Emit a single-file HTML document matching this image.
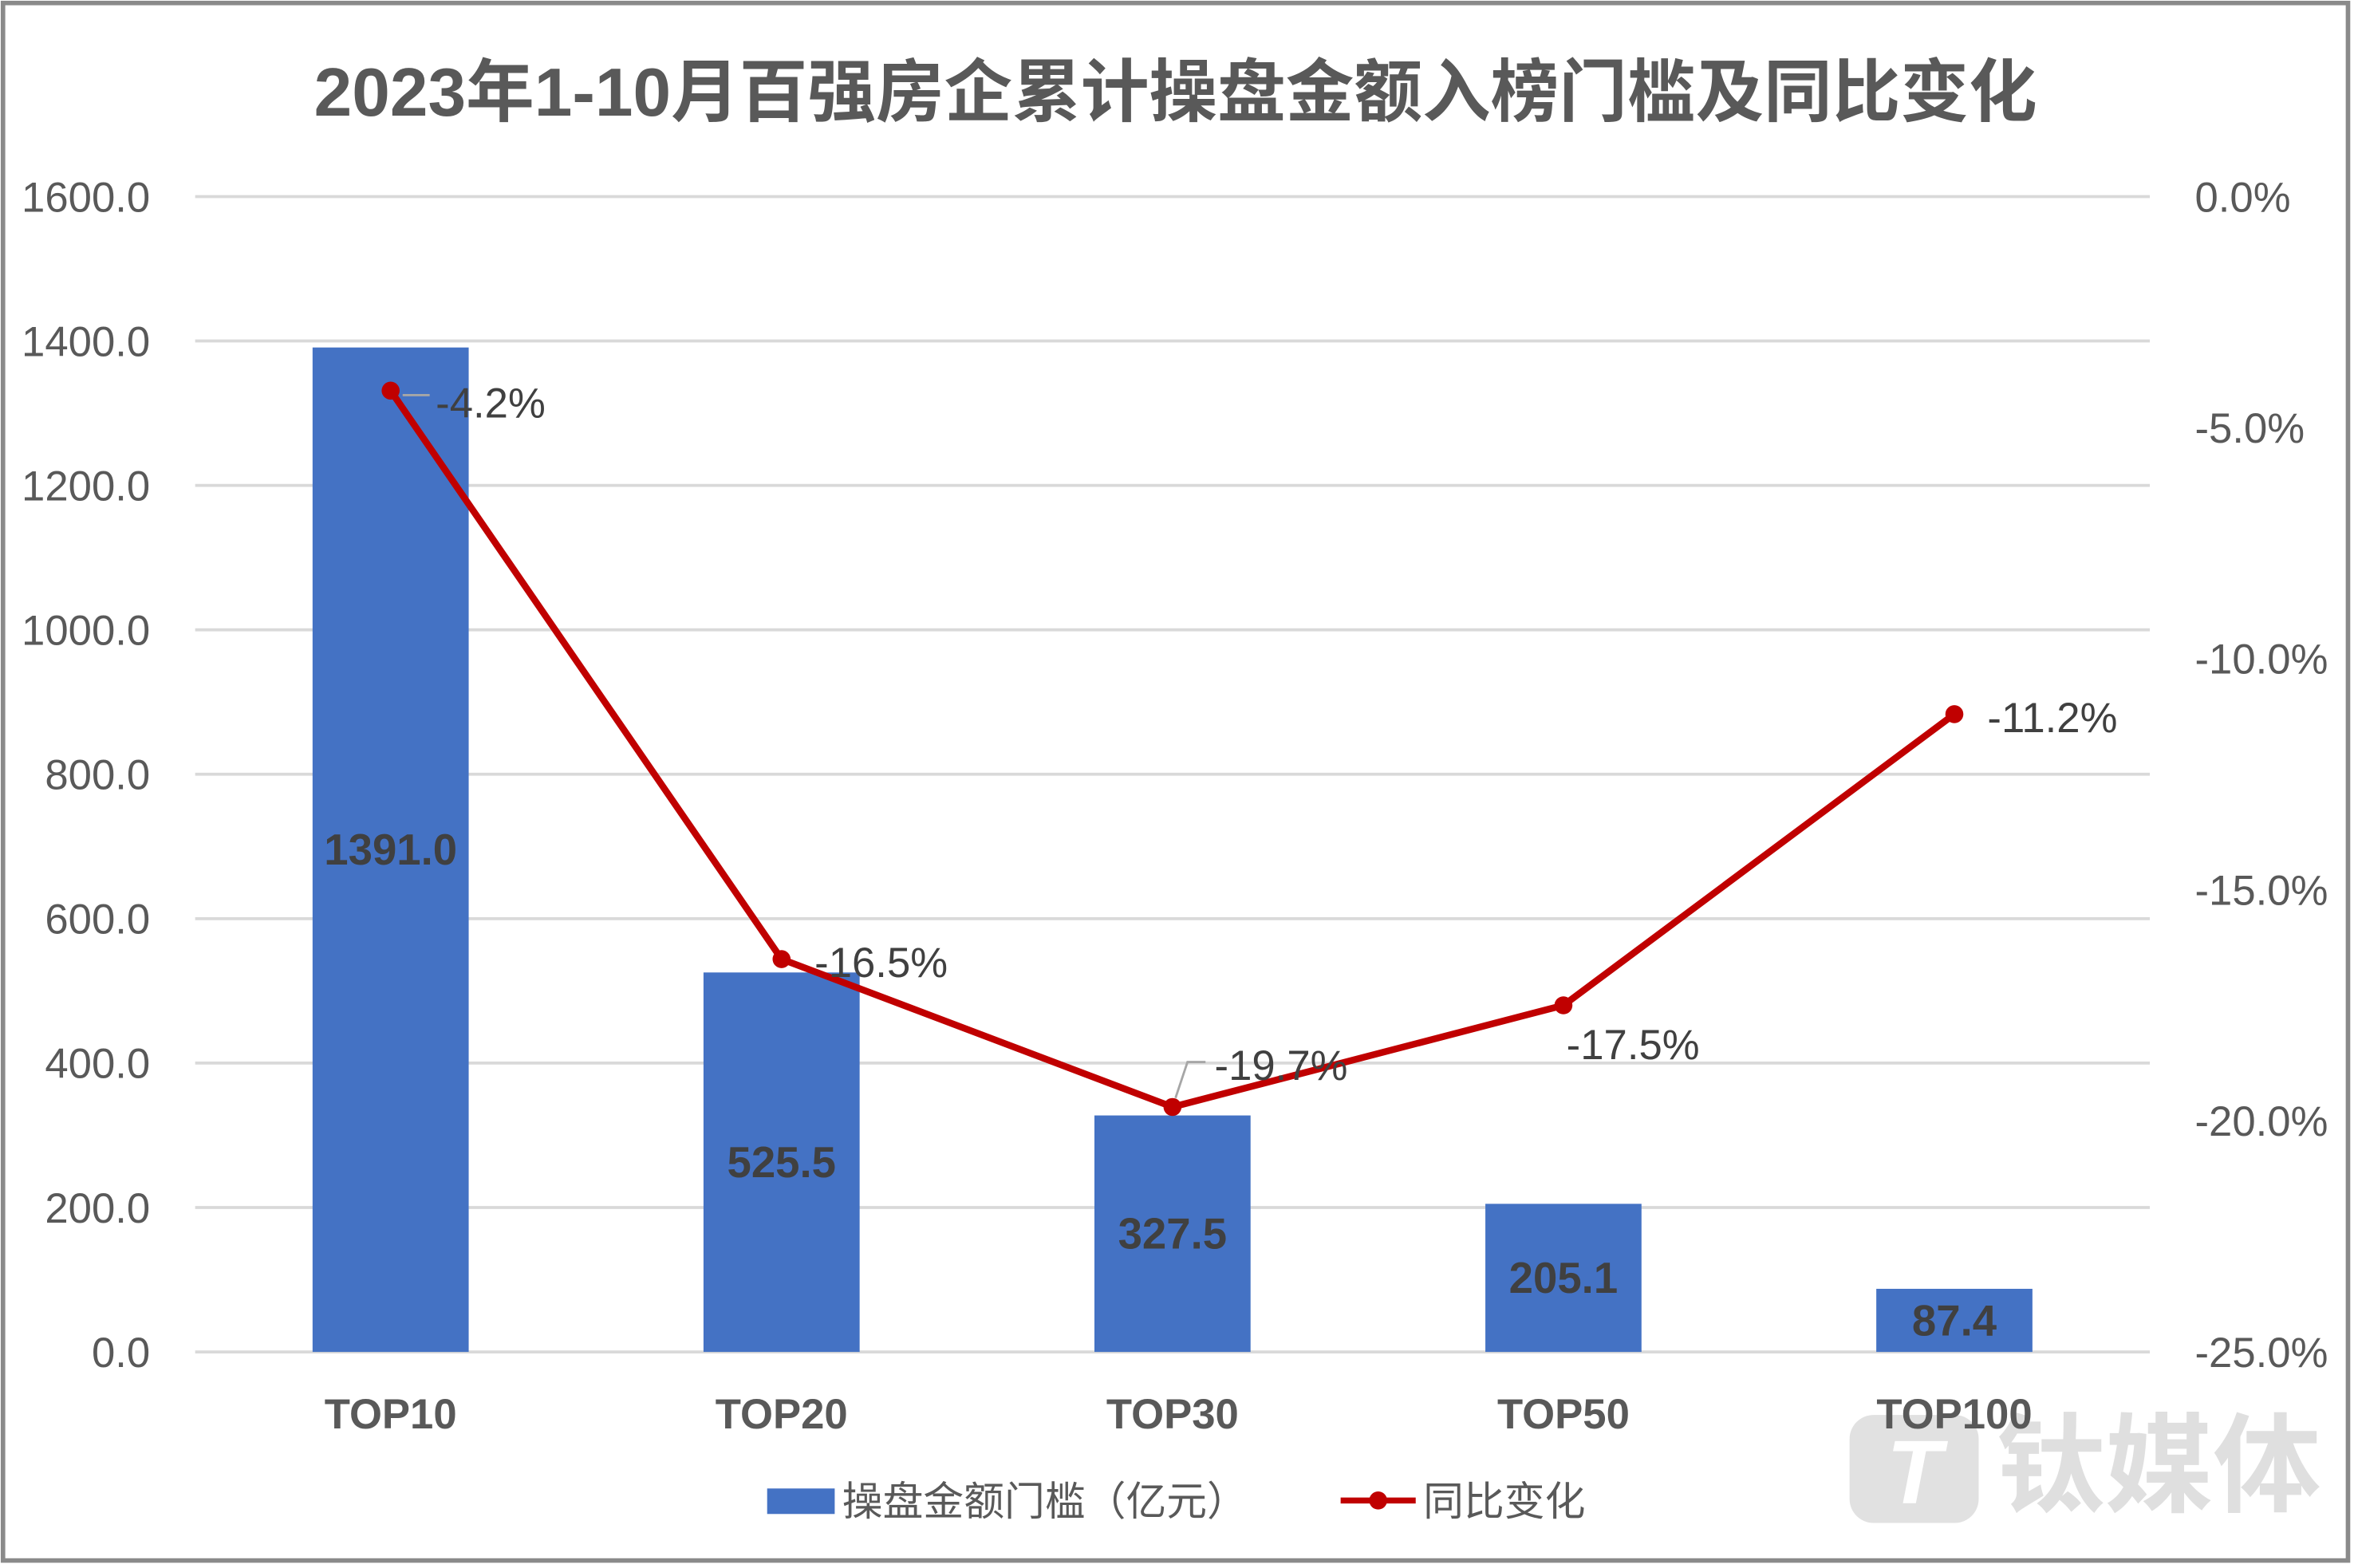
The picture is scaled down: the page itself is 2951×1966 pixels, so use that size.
<!DOCTYPE html>
<html><head><meta charset="utf-8"><style>
html,body{margin:0;padding:0;background:#fff;}
svg{display:block;}
text{font-family:"Liberation Sans","Noto Sans CJK SC",sans-serif;}
</style></head><body>
<svg id="chart" width="2951" height="1966" viewBox="0 0 1568 1045" preserveAspectRatio="none" xmlns="http://www.w3.org/2000/svg">
<rect x="2" y="2" width="1562" height="1038" fill="#fff" stroke="#8a8a8a" stroke-width="3"/>
<g opacity="0.9">
<rect x="1232" y="943" width="86" height="72" rx="16" fill="#dedede"/>
<text x="1275" y="1002" text-anchor="middle" font-size="60" font-weight="bold" font-style="italic" fill="#fff">T</text>
<text x="1330" y="1002" font-size="72" font-weight="bold" fill="#dcdcdc" font-family="'Noto Sans CJK SC',sans-serif">钛媒体</text>
</g>
<text x="783" y="77" text-anchor="middle" font-size="45.5" font-weight="bold" fill="#595959" font-family="'Liberation Sans','Noto Sans CJK SC',sans-serif">2023年1-10月百强房企累计操盘金额入榜门槛及同比变化</text>
<g id="grid"></g><g id="bars"></g><g id="line"></g><g id="labels"></g>
<g>
<rect x="511" y="992" width="45" height="17" fill="#4472c4"/>
<text x="561" y="1010" font-size="27" fill="#595959">操盘金额门槛（亿元）</text>
<line x1="893" y1="1000" x2="943" y2="1000" stroke="#c00000" stroke-width="4"/>
<circle cx="918" cy="1000" r="6" fill="#c00000"/>
<text x="948" y="1010" font-size="27" fill="#595959">同比变化</text>
</g>
</svg>
<script>
const categories=["TOP10","TOP20","TOP30","TOP50","TOP100"];
const amounts=[1391.0,525.5,327.5,205.1,87.4];
const yoy=[-4.2,-16.5,-19.7,-17.5,-11.2];
const leftTicks=[0,200,400,600,800,1000,1200,1400,1600];
const rightTicks=[0,-5,-10,-15,-20,-25];
const NS="http://www.w3.org/2000/svg";
const X0=130,X1=1432,Y0=901,Y1=131;
const band=(X1-X0)/categories.length;
const xC=i=>X0+band*(i+0.5);
const yL=v=>Y0-(v/1600)*(Y0-Y1);
const yR=v=>Y1+(-v/25)*(Y0-Y1);
function mk(tag,attrs,parent,txt){const e=document.createElementNS(NS,tag);for(const k in attrs)e.setAttribute(k,attrs[k]);if(txt!==undefined)e.textContent=txt;document.getElementById(parent).appendChild(e);return e;}
leftTicks.forEach(t=>{
 const g=mk('line',{x1:X0,x2:X1,y1:yL(t),y2:yL(t),stroke:'#d9d9d9','stroke-width':2},'grid');
 
 
 const l=mk('text',{x:100,y:yL(t)+10,'text-anchor':'end','font-size':28,fill:'#595959'},'grid',t.toFixed(1));
 
 
});
rightTicks.forEach(t=>{
 const l=mk('text',{x:1462,y:yR(t)+10,'font-size':28,fill:'#595959'},'grid',t.toFixed(1)+'%');
 
 
});
const bw=104;
categories.forEach((c,i)=>{
 const b=mk('rect',{x:xC(i)-bw/2,y:yL(amounts[i]),width:bw,height:Y0-yL(amounts[i]),fill:'#4472c4'},'bars');
 
 
 const v=mk('text',{x:xC(i),y:(yL(amounts[i])+Y0)/2+10,'text-anchor':'middle','font-size':29,'font-weight':'bold',fill:'#404040'},'labels',amounts[i].toFixed(1));
 
 
 const xl=mk('text',{x:xC(i),y:952,'text-anchor':'middle','font-size':28,'font-weight':'bold',fill:'#595959'},'labels',c);
 
 
});
const pts=yoy.map((v,i)=>xC(i)+','+yR(v)).join(' ');
const pl=mk('polyline',{points:pts,fill:'none',stroke:'#c00000','stroke-width':4.5,'stroke-linejoin':'round'},'line');


const offs=[[30,8],[22,2],[28,-28],[2,26],[22,2]];
yoy.forEach((v,i)=>{
 const c=mk('circle',{cx:xC(i),cy:yR(v),r:6,fill:'#c00000'},'line');
 
 
 const t=mk('text',{x:xC(i)+offs[i][0],y:yR(v)+offs[i][1]+10,'font-size':28,fill:'#404040'},'labels',v.toFixed(1)+'%');
 
 
});
const ld=mk('polyline',{points:(xC(2)+2)+','+(yR(yoy[2])-6)+' '+(xC(2)+10)+','+(yR(yoy[2])-30)+' '+(xC(2)+22)+','+(yR(yoy[2])-30),fill:'none',stroke:'#a6a6a6','stroke-width':1.5},'labels');


const ld2=mk('line',{x1:xC(0)+8,y1:yR(yoy[0])+3,x2:xC(0)+26,y2:yR(yoy[0])+3,stroke:'#a6a6a6','stroke-width':1.5},'labels');


</script>
</body></html>
